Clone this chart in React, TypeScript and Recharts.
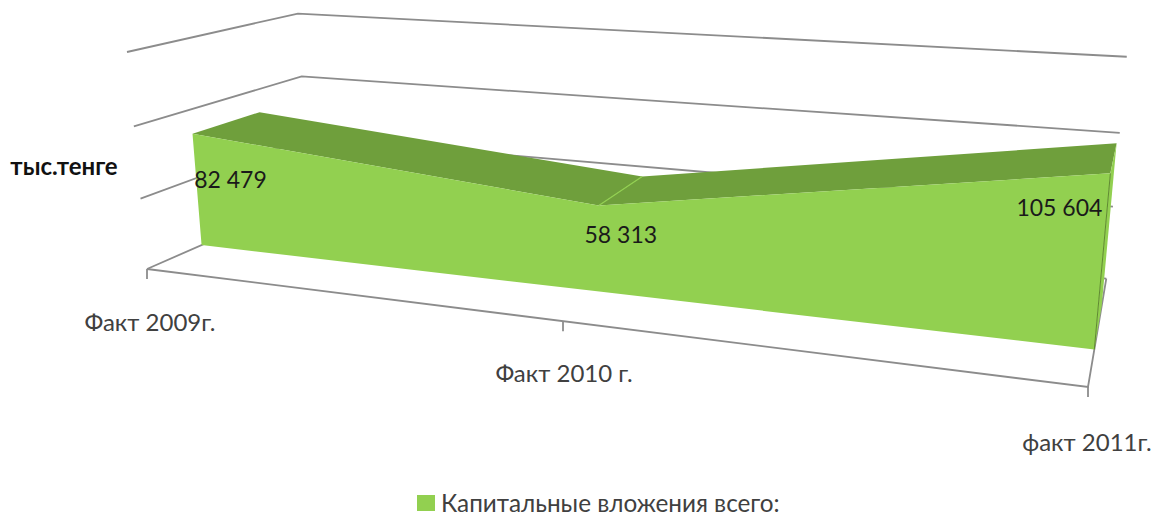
import React from 'react';
import { ScatterChart, Scatter, XAxis, YAxis, LabelList, Legend } from 'recharts';

const categories = ['Факт 2009г.', 'Факт 2010 г.', 'факт 2011г.'];
const values = [82479, 58313, 105604];
const valueLabels = ['82 479', '58 313', '105 604'];
const gridLevels = [0, 50000, 100000, 150000];
const seriesName = 'Капитальные вложения всего:';
const unitName = 'тыс.тенге';

const WIDTH = 1153;
const HEIGHT = 513;
const AXIS_MAX = 150000;
const FONT = 'Lato, "Noto Sans", sans-serif';
const GREEN = '#92d050';
const GREEN_DARK = '#6f9f3c';
const GRID = '#8c8c8c';

// the 3d box as seen on screen: floor corners, top of the left edge, perspective weights
const ORIGIN = { x: 147, y: 269 };
const RIGHT = { x: 1088, y: 387 };
const UP = { x: 127, y: 52 };
const BACK = { x: 309, y: 198 };
const W_RIGHT = -0.2076;
const W_UP = -0.04;
const W_BACK = 0.185;
const AREA_FRONT = 0.3;
const AREA_BACK = 0.705;

// u across categories, value up, d into the picture
const project = (u: number, value: number, d: number) => {
  const v = value / AXIS_MAX;
  const w = 1 + W_RIGHT * u + W_UP * v + W_BACK * d;
  const along = (key: 'x' | 'y') =>
    ORIGIN[key] +
    u * (RIGHT[key] * (1 + W_RIGHT) - ORIGIN[key]) +
    v * (UP[key] * (1 + W_UP) - ORIGIN[key]) +
    d * (BACK[key] * (1 + W_BACK) - ORIGIN[key]);
  return { x: along('x') / w, y: along('y') / w };
};

const uOf = (i: number) => i / (categories.length - 1);
const last = categories.length - 1;

const frontFace = [
  ...values.map((v, i) => project(uOf(i), v, AREA_FRONT)),
  ...values.map((_, i) => project(uOf(i), 0, AREA_FRONT)).reverse(),
];
const topFaces = values.slice(0, -1).map((v, i) => [
  project(uOf(i), v, AREA_FRONT),
  project(uOf(i + 1), values[i + 1], AREA_FRONT),
  project(uOf(i + 1), values[i + 1], AREA_BACK),
  project(uOf(i), v, AREA_BACK),
]);
const capFace = [
  project(1, values[last], AREA_FRONT),
  project(1, values[last], AREA_BACK),
  project(1, 0, AREA_BACK),
  project(1, 0, AREA_FRONT),
];
const ridge = [project(uOf(1), values[1], AREA_FRONT), project(uOf(1), values[1], AREA_BACK)];
const capEdge = [project(1, values[last], AREA_FRONT), project(1, 0, AREA_FRONT)];

const gridLines = gridLevels.map((level) => [
  project(0, level, 0),
  project(0, level, 1),
  project(1, level, 1),
]);
const floorFront = [project(0, 0, 0), project(1, 0, 0), project(1, 0, 1)];
const tickMarks = categories.map((_, i) => {
  const p = project(uOf(i), 0, 0);
  return [p, { x: p.x, y: p.y + 10 }];
});

const categoryOffsets = [{ dx: 3, dy: 52 }, { dx: 1, dy: 51 }, { dx: -1, dy: 54 }];
const categoryPoints = categories.map((label, i) => {
  const p = project(uOf(i), 0, 0);
  return { x: p.x + categoryOffsets[i].dx, y: p.y + categoryOffsets[i].dy, label };
});

const valueOffsets = [{ dx: 38, dy: 45 }, { dx: 22, dy: 29 }, { dx: -51, dy: 34 }];
const valuePoints = values.map((v, i) => {
  const p = project(uOf(i), v, AREA_FRONT);
  return { x: p.x + valueOffsets[i].dx, y: p.y + valueOffsets[i].dy, label: valueLabels[i] };
});

const unitPoints = [{ x: 64, y: 165, label: unitName }];

const noDot = () => <g />;

const renderLegend = () => (
  <div style={{ display: 'flex', alignItems: 'center', height: 20, fontFamily: FONT, fontSize: 24.3, lineHeight: 1, color: '#404040', whiteSpace: 'nowrap' }}>
    <span style={{ width: 18, height: 16, background: GREEN, marginRight: 6 }} />
    {seriesName}
  </div>
);

const fillFace = (data: { x: number; y: number }[], fill: string, key: string) => (
  <Scatter
    key={key}
    data={data}
    shape={noDot}
    line={{ stroke: 'none', fill }}
    legendType="none"
    isAnimationActive={false}
  />
);

const strokeLine = (data: { x: number; y: number }[], stroke: string, width: number, key: string) => (
  <Scatter
    key={key}
    data={data}
    shape={noDot}
    line={{ stroke, strokeWidth: width, fill: 'none' }}
    legendType="none"
    isAnimationActive={false}
  />
);

const textSeries = (
  data: { x: number; y: number; label: string }[],
  size: number,
  color: string,
  weight: number,
  key: string,
) => (
  <Scatter key={key} data={data} shape={noDot} legendType="none" isAnimationActive={false}>
    <LabelList
      dataKey="label"
      content={(props: any) => {
        const box = props.viewBox;
        return (
          <text
            x={box.x + box.width / 2}
            y={box.y + box.height / 2}
            textAnchor="middle"
            dominantBaseline="central"
            style={{ fontFamily: FONT, fontSize: size, fill: color, fontWeight: weight }}
          >
            {props.value}
          </text>
        );
      }}
    />
  </Scatter>
);

export default function App() {
  return (
    <div style={{ position: 'absolute', left: 0, top: 0 }}>
      <ScatterChart width={WIDTH} height={HEIGHT} margin={{ top: 0, right: 0, bottom: 0, left: 0 }}>
        <XAxis type="number" dataKey="x" domain={[0, WIDTH]} hide />
        <YAxis type="number" dataKey="y" domain={[0, HEIGHT]} reversed hide />
        <Legend
          layout="horizontal"
          verticalAlign="middle"
          align="center"
          content={renderLegend}
          wrapperStyle={{ position: 'absolute', left: 417, top: 493, width: 'auto' }}
        />
        {gridLines.map((line, i) => strokeLine(line, GRID, 1.8, `grid-${i}`))}
        {strokeLine(floorFront, GRID, 1.8, 'floor')}
        {tickMarks.map((line, i) => strokeLine(line, GRID, 1.8, `tick-${i}`))}
        {topFaces.map((face, i) => fillFace(face, GREEN_DARK, `top-${i}`))}
        {fillFace(capFace, GREEN, 'cap')}
        {fillFace(frontFace, GREEN, 'front')}
        {strokeLine(ridge, GREEN, 1.2, 'ridge')}
        {strokeLine(capEdge, '#5f8a30', 1, 'cap-edge')}
        {textSeries(valuePoints, 23, '#1a1a1a', 400, 'value-labels')}
        {textSeries(categoryPoints, 24, '#404040', 400, 'category-labels')}
        {textSeries(unitPoints, 24, '#111111', 700, 'unit-label')}
      </ScatterChart>
    </div>
  );
}
